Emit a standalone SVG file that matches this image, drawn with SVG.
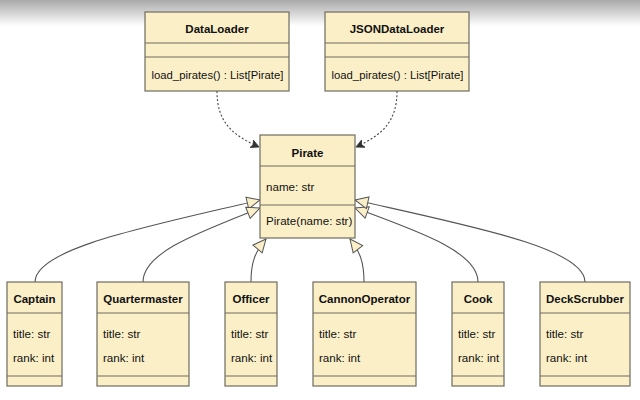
<svg xmlns="http://www.w3.org/2000/svg" width="640" height="400" viewBox="0 0 640 400">
<defs>
<linearGradient id="top" x1="0" y1="0" x2="0" y2="1">
<stop offset="0" stop-color="#a9a9a9"/>
<stop offset="1" stop-color="#ffffff"/>
</linearGradient>
<marker id="tri" markerUnits="userSpaceOnUse" markerWidth="16" markerHeight="14" refX="13" refY="6" orient="auto" overflow="visible">
<path d="M0,0 L13,6 L0,12 Z" fill="#fbefc8" stroke="#555" stroke-width="1"/>
</marker>
<marker id="open" markerUnits="userSpaceOnUse" markerWidth="12" markerHeight="12" refX="8" refY="4" orient="auto" overflow="visible">
<path d="M0,0 L8,4 L0,8 L2,4 Z" fill="#333" stroke="#333" stroke-width="0.8"/>
</marker>
</defs>
<style>
.box{fill:#fbefc8;stroke:#6f6b5e;stroke-width:1.2}
.ln{stroke:#6f6b5e;stroke-width:1.2}
.t{font-family:"Liberation Sans",Arial,sans-serif;font-size:11.5px;font-weight:bold;fill:#111;text-anchor:middle}
.a{font-family:"Liberation Sans",Arial,sans-serif;font-size:11.3px;fill:#111}
.b{font-size:11.6px}
.inh{fill:none;stroke:#555;stroke-width:1.1;marker-end:url(#tri)}
.dep{fill:none;stroke:#444;stroke-width:1.1;stroke-dasharray:2,2;marker-end:url(#open)}
</style>
<rect width="640" height="400" fill="#fff"/>
<rect width="640" height="26" fill="url(#top)"/>

<g id="connectors">
<path class="dep" d="M217,91 C217,122 232,135 259,147"/>
<path class="dep" d="M397,91 C397,122 382,135 356,147"/>
<path class="inh" d="M35,282 C35,248 150,226 260,200"/>
<path class="inh" d="M143,282 C143,252 200,232 260,208"/>
<path class="inh" d="M251,282 C251,262 255,252 266,239"/>
<path class="inh" d="M364,282 C364,262 360,252 350,239"/>
<path class="inh" d="M478,282 C478,252 420,232 355,208"/>
<path class="inh" d="M585,282 C585,248 470,226 355,200"/>
</g>

<g id="DataLoader">
<rect class="box" x="145" y="12" width="144" height="79"/>
<line class="ln" x1="145" y1="43" x2="289" y2="43"/>
<line class="ln" x1="145" y1="57" x2="289" y2="57"/>
<text class="t" x="217" y="33">DataLoader</text>
<text class="a" x="151.5" y="79">load_pirates() : List[Pirate]</text>
</g>

<g id="JSONDataLoader">
<rect class="box" x="325" y="12" width="144" height="79"/>
<line class="ln" x1="325" y1="43" x2="469" y2="43"/>
<line class="ln" x1="325" y1="57" x2="469" y2="57"/>
<text class="t" x="397" y="33">JSONDataLoader</text>
<text class="a" x="331.5" y="79">load_pirates() : List[Pirate]</text>
</g>

<g id="Pirate">
<rect class="box" x="260" y="135" width="95" height="103"/>
<line class="ln" x1="260" y1="166" x2="355" y2="166"/>
<line class="ln" x1="260" y1="205" x2="355" y2="205"/>
<text class="t" x="307.5" y="157">Pirate</text>
<text class="a b" x="266" y="191">name: str</text>
<text class="a b" x="266" y="225">Pirate(name: str)</text>
</g>

<g id="Captain">
<rect class="box" x="7" y="282" width="55" height="104"/>
<line class="ln" x1="7" y1="313" x2="62" y2="313"/>
<line class="ln" x1="7" y1="376" x2="62" y2="376"/>
<text class="t" x="34.5" y="303">Captain</text>
<text class="a b" x="13" y="338">title: str</text>
<text class="a b" x="13" y="362">rank: int</text>
</g>

<g id="Quartermaster">
<rect class="box" x="97" y="282" width="92" height="104"/>
<line class="ln" x1="97" y1="313" x2="189" y2="313"/>
<line class="ln" x1="97" y1="376" x2="189" y2="376"/>
<text class="t" x="143" y="303">Quartermaster</text>
<text class="a b" x="103" y="338">title: str</text>
<text class="a b" x="103" y="362">rank: int</text>
</g>

<g id="Officer">
<rect class="box" x="225" y="282" width="52" height="104"/>
<line class="ln" x1="225" y1="313" x2="277" y2="313"/>
<line class="ln" x1="225" y1="376" x2="277" y2="376"/>
<text class="t" x="251" y="303">Officer</text>
<text class="a b" x="231" y="338">title: str</text>
<text class="a b" x="231" y="362">rank: int</text>
</g>

<g id="CannonOperator">
<rect class="box" x="313" y="282" width="103" height="104"/>
<line class="ln" x1="313" y1="313" x2="416" y2="313"/>
<line class="ln" x1="313" y1="376" x2="416" y2="376"/>
<text class="t" x="364.5" y="303">CannonOperator</text>
<text class="a b" x="319" y="338">title: str</text>
<text class="a b" x="319" y="362">rank: int</text>
</g>

<g id="Cook">
<rect class="box" x="452" y="282" width="52" height="104"/>
<line class="ln" x1="452" y1="313" x2="504" y2="313"/>
<line class="ln" x1="452" y1="376" x2="504" y2="376"/>
<text class="t" x="478" y="303">Cook</text>
<text class="a b" x="458" y="338">title: str</text>
<text class="a b" x="458" y="362">rank: int</text>
</g>

<g id="DeckScrubber">
<rect class="box" x="540" y="282" width="90" height="104"/>
<line class="ln" x1="540" y1="313" x2="630" y2="313"/>
<line class="ln" x1="540" y1="376" x2="630" y2="376"/>
<text class="t" x="585" y="303">DeckScrubber</text>
<text class="a b" x="546" y="338">title: str</text>
<text class="a b" x="546" y="362">rank: int</text>
</g>
</svg>
